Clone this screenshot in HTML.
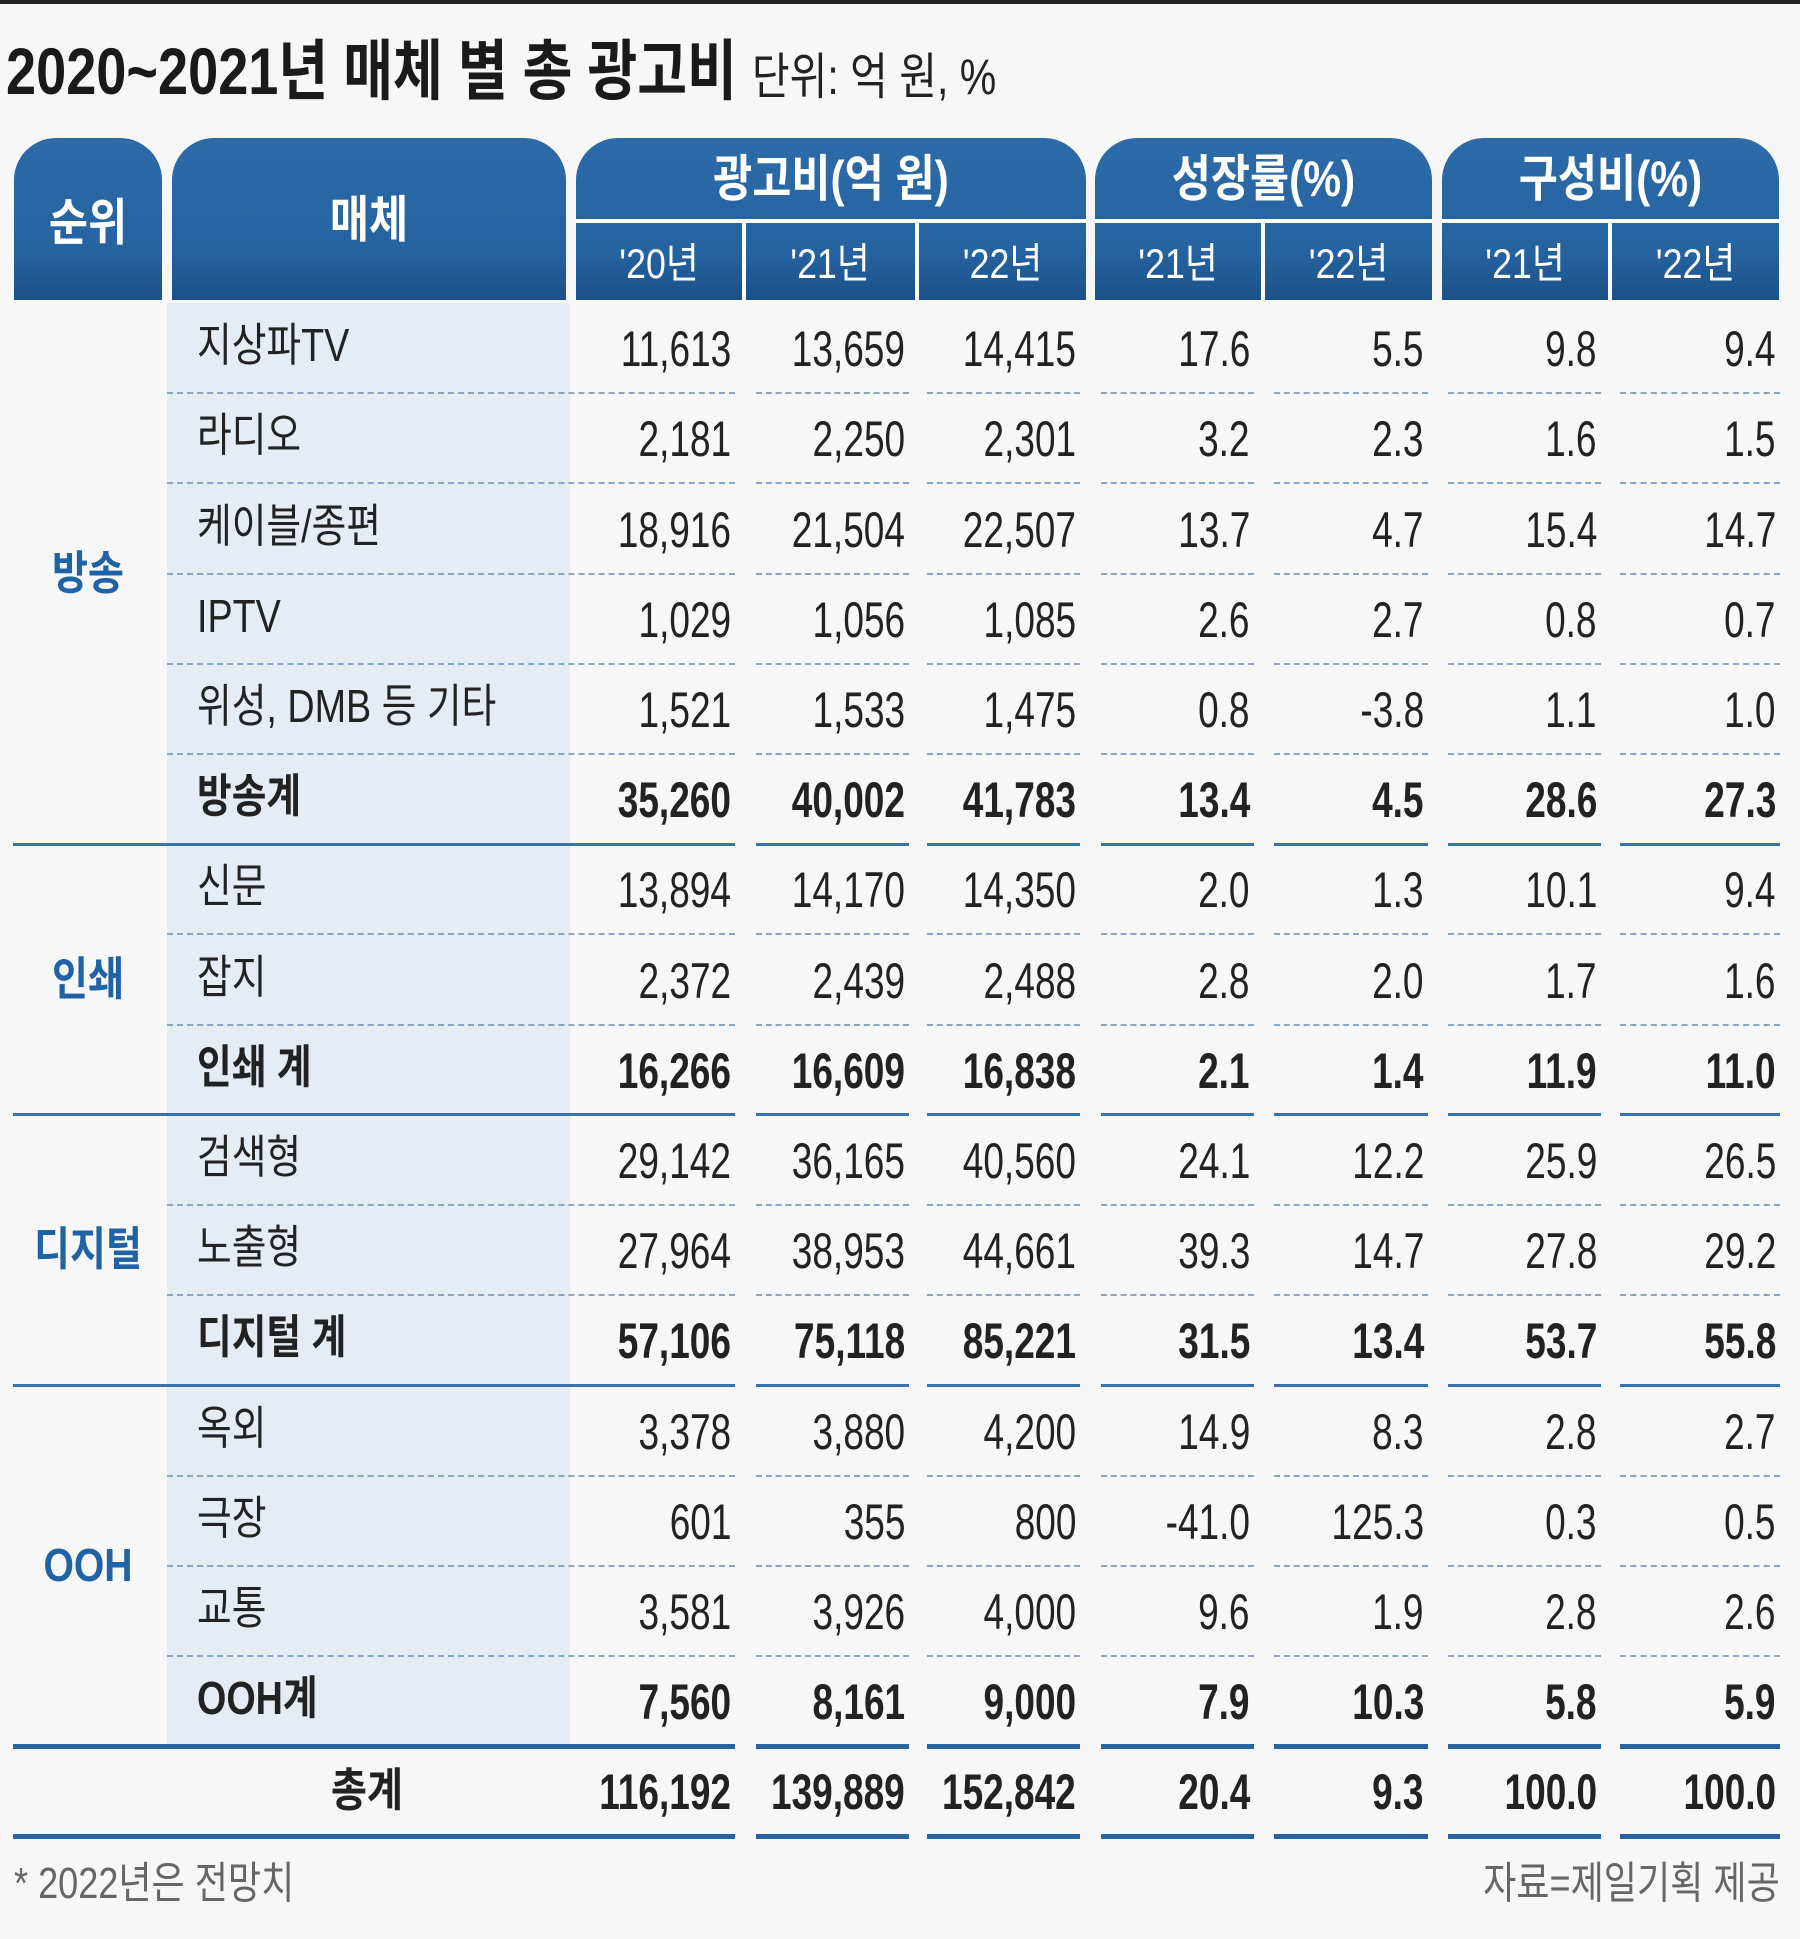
<!DOCTYPE html>
<html><head><meta charset="utf-8">
<style>
body{margin:0;background:#f7f7f7;}
#root{position:relative;width:1800px;height:1939px;overflow:hidden;background:#f7f7f7;font-family:"Liberation Sans","Noto Sans CJK KR",sans-serif;color:#222;}
.abs{position:absolute;}
.t{position:absolute;white-space:nowrap;line-height:1;}
.n{transform:scaleX(.74);transform-origin:right center;}
.l{transform:scaleX(.82);transform-origin:left center;}
.c{transform:scaleX(.85);transform-origin:center center;}
.hd{position:absolute;background:linear-gradient(#2c6aa8,#2563a0 70%,#1c5088);border-radius:42px 42px 0 0;}
</style></head><body>
<div id="root">
<div class="abs" style="left:0;top:0;width:1800px;height:4px;background:#222"></div>
<div class="t l" style="left:6px;top:38px;font-size:66px;font-weight:bold;color:#1a1a1a">2020~2021년 매체 별 총 광고비 <span style="font-size:50px;font-weight:normal;color:#222">단위: 억 원, %</span></div>

<div class="hd" style="left:14px;top:138px;width:148px;height:162px"></div>
<div class="hd" style="left:172px;top:138px;width:394px;height:162px"></div>
<div class="hd" style="left:576px;top:138px;width:510px;height:162px"></div>
<div class="hd" style="left:1095px;top:138px;width:337px;height:162px"></div>
<div class="hd" style="left:1442px;top:138px;width:337px;height:162px"></div>
<div id="hdr"></div>
<div class="abs" style="left:167px;top:303px;width:403px;height:1444px;background:#e5ecf4"></div>
<div id="body"></div>
<div class="t l" style="left:14px;top:1862px;font-size:44px;color:#666">* 2022년은 전망치</div>
<div class="t" style="right:20px;top:1862px;font-size:44px;color:#666;transform:scaleX(.82);transform-origin:right center">자료=제일기획 제공</div>
</div>
<script>
const groups=["방송","인쇄","디지털","OOH"];
const groupRows=[6,3,3,4];
const media=["지상파TV","라디오","케이블/종편","IPTV","위성, DMB 등 기타","방송계","신문","잡지","인쇄 계","검색형","노출형","디지털 계","옥외","극장","교통","OOH계","총계"];
const spend20=["11,613","2,181","18,916","1,029","1,521","35,260","13,894","2,372","16,266","29,142","27,964","57,106","3,378","601","3,581","7,560","116,192"];
const spend21=["13,659","2,250","21,504","1,056","1,533","40,002","14,170","2,439","16,609","36,165","38,953","75,118","3,880","355","3,926","8,161","139,889"];
const spend22=["14,415","2,301","22,507","1,085","1,475","41,783","14,350","2,488","16,838","40,560","44,661","85,221","4,200","800","4,000","9,000","152,842"];
const growth21=["17.6","3.2","13.7","2.6","0.8","13.4","2.0","2.8","2.1","24.1","39.3","31.5","14.9","-41.0","9.6","7.9","20.4"];
const growth22=["5.5","2.3","4.7","2.7","-3.8","4.5","1.3","2.0","1.4","12.2","14.7","13.4","8.3","125.3","1.9","10.3","9.3"];
const share21=["9.8","1.6","15.4","0.8","1.1","28.6","10.1","1.7","11.9","25.9","27.8","53.7","2.8","0.3","2.8","5.8","100.0"];
const share22=["9.4","1.5","14.7","0.7","1.0","27.3","9.4","1.6","11.0","26.5","29.2","55.8","2.7","0.5","2.6","5.9","100.0"];
const boldRows=[5,8,11,15,16];
const cols=[spend20,spend21,spend22,growth21,growth22,share21,share22];
const colNames=["spend-20","spend-21","spend-22","growth-21","growth-22","share-21","share-22"];
const colL=[576,745,919,1095,1265,1442,1612];
const colR=[742,915,1086,1261,1432,1608,1779];
const segL=[577,756,927,1101,1274,1448,1620];
const segR=[735,909,1080,1254,1428,1601,1780];
const top0=303, rh=90.2;
const body=document.getElementById('body');
const hdr=document.getElementById('hdr');
function mk(parent,cls,css,text){const d=document.createElement('div');d.className=cls;d.style.cssText=css;if(text!==undefined)d.textContent=text;parent.appendChild(d);return d;}
// header texts
let e;
e=mk(hdr,'t c','left:14px;width:148px;top:198px;text-align:center;font-size:50px;font-weight:bold;color:#fff','순위');

e=mk(hdr,'t c','left:172px;width:394px;top:195px;text-align:center;font-size:50px;font-weight:bold;color:#fff','매체');

const top3=[["광고비(억 원)",576,510],["성장률(%)",1095,337],["구성비(%)",1442,337]];
top3.forEach((h,i)=>{
 e=mk(hdr,'t c',`left:${h[1]}px;width:${h[2]}px;top:154px;text-align:center;font-size:50px;font-weight:bold;color:#fff`,h[0]);
 
 e=mk(hdr,'abs',`left:${h[1]}px;width:${h[2]}px;top:219px;height:4px;background:#fff`);
 
});
const subs=["'20년","'21년","'22년","'21년","'22년","'21년","'22년"];
subs.forEach((s,i)=>{
 e=mk(hdr,'t c',`left:${colL[i]}px;width:${colR[i]-colL[i]}px;top:243px;text-align:center;font-size:42px;color:#fff`,s);
 
 if(i!==2&&i!==4&&i!==6){e=mk(hdr,'abs',`left:${colR[i]}px;width:4px;top:222px;height:78px;background:#fff`);
 }
});
// group labels
let r=0;
groups.forEach((g,gi)=>{
 const cy=top0+rh*(r+groupRows[gi]/2);
 e=mk(body,'t c',`left:14px;width:148px;top:${cy-24}px;text-align:center;font-size:46px;font-weight:bold;color:#1f62a6`,g);
 
 r+=groupRows[gi];
});
// group-end rows
const groupEnd=[];let acc=0;groupRows.forEach(n=>{acc+=n;groupEnd.push(acc-1);});
media.forEach((m,i)=>{
 const y=top0+rh*i, cy=y+rh/2;
 const b=boldRows.includes(i);
 const isTot=i===16;
 e=mk(body,'t '+(isTot?'c':'l'),isTot?`left:167px;width:400px;top:${cy-24}px;text-align:center;font-size:46px;font-weight:bold`:`left:197px;top:${cy-26}px;font-size:46px;${b?'font-weight:bold;':''}color:#222`,m);
 
 cols.forEach((col,ci)=>{
  e=mk(body,'t n',`right:${1800-(segR[ci]-4)}px;top:${cy-24}px;font-size:50px;${b?'font-weight:bold;':''}color:#222`,col[i]);
  
 });
 // bottom line
 const by=y+rh;
 const gEnd=groupEnd.includes(i), thick=(i===15||i===16);
 if(thick||gEnd){
  const h=thick?5:3, col=thick?'#2a64a0':'#3a72ad';
  e=mk(body,'abs',`left:13px;width:${segR[0]-13}px;top:${by-h/2}px;height:${h}px;background:${col}`);
  
  for(let k=1;k<7;k++){e=mk(body,'abs',`left:${segL[k]}px;width:${segR[k]-segL[k]}px;top:${by-h/2}px;height:${h}px;background:${col}`);
  }
 } else {
  e=mk(body,'abs',`left:167px;width:${segR[0]-167}px;top:${by-1}px;height:0;border-top:2px dashed #8aa6c4`);
  
  for(let k=1;k<7;k++){e=mk(body,'abs',`left:${segL[k]}px;width:${segR[k]-segL[k]}px;top:${by-1}px;height:0;border-top:2px dashed #8aa6c4`);
  }
 }
});
</script>
</body></html>
